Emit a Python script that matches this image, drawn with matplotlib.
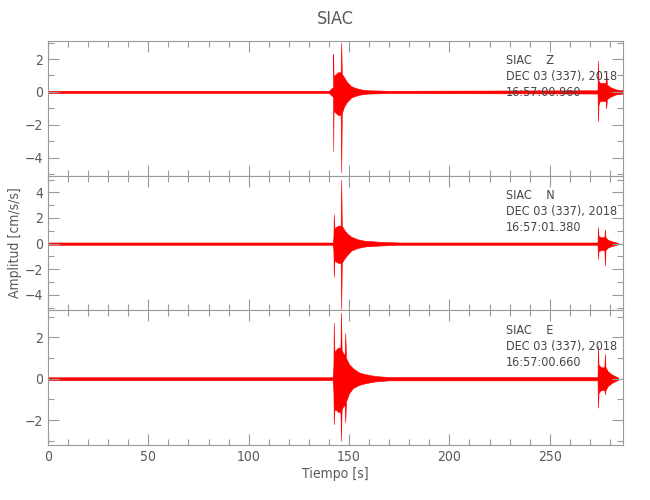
import matplotlib.pyplot as plt
from matplotlib.ticker import MultipleLocator

# Envelope knots (time in s, amplitude in cm/s/s)
z_time = [0, 140, 142.0, 142.1, 142.3, 142.6, 143.5, 144.5, 145.8, 146.1, 146.4, 147.5, 149, 151, 153, 156,
          160, 170, 273.8, 274.0, 274.3, 275, 277.8, 278.1, 278.5, 280, 283, 286.5]
z_upper = [0.07, 0.07, 0.3, 2.3, 0.8, 1.0, 1.1, 1.2, 1.2, 3.0, 1.1, 0.9, 0.6, 0.35, 0.25, 0.15,
           0.1, 0.07, 0.1, 1.9, 0.7, 0.55, 0.55, 1.2, 0.45, 0.3, 0.15, 0.1]
z_lower = [-0.07, -0.07, -0.3, -3.6, -1.0, -1.2, -1.3, -1.4, -1.4, -4.9, -1.3, -0.9, -0.6, -0.35, -0.25, -0.15,
           -0.1, -0.07, -0.1, -1.8, -0.8, -0.55, -0.55, -1.0, -0.45, -0.3, -0.15, -0.1]

n_time = [0, 141.8, 142.2, 142.4, 142.7, 143.5, 144.5, 145.8, 146.1, 146.4, 147.5, 149, 151, 154, 158, 165,
          175, 273.8, 274.0, 274.3, 275.5, 277.2, 277.5, 277.8, 279, 281, 284]
n_upper = [0.09, 0.09, 0.5, 2.3, 1.2, 1.3, 1.4, 1.4, 5.0, 1.4, 1.1, 0.8, 0.55, 0.35, 0.22, 0.15,
           0.09, 0.09, 1.3, 0.6, 0.5, 0.5, 1.1, 0.5, 0.3, 0.18, 0.06]
n_lower = [-0.09, -0.09, -0.5, -2.6, -1.3, -1.4, -1.5, -1.5, -5.1, -1.5, -1.2, -0.9, -0.55, -0.35, -0.22, -0.15,
           -0.09, -0.09, -1.2, -0.6, -0.5, -0.5, -1.7, -0.5, -0.3, -0.18, -0.06]

e_time = [0, 141.8, 142.2, 142.4, 142.7, 143.5, 144.5, 145.7, 146.0, 146.3, 147.2, 147.8, 148.1, 148.5, 150,
          152, 155, 158, 163, 170, 273.8, 274.0, 274.3, 275.5, 277.2, 277.5, 277.8, 279, 281, 284]
e_upper = [0.07, 0.07, 0.6, 2.7, 1.3, 1.4, 1.5, 1.5, 3.2, 1.4, 1.2, 1.2, 2.2, 1.0, 0.7,
           0.5, 0.3, 0.22, 0.13, 0.08, 0.08, 1.6, 0.7, 0.55, 0.55, 1.2, 0.55, 0.35, 0.2, 0.06]
e_lower = [-0.07, -0.07, -0.6, -2.2, -1.5, -1.5, -1.6, -1.6, -3.0, -1.5, -1.3, -1.3, -2.1, -1.1, -0.7,
           -0.45, -0.3, -0.22, -0.13, -0.08, -0.08, -1.4, -0.7, -0.55, -0.55, -0.75, -0.55, -0.35, -0.2, -0.06]

channels = ["Z", "N", "E"]
start_times = ["16:57:00.960", "16:57:01.380", "16:57:00.660"]
ylims = [(-5.1, 3.1), (-5.2, 5.3), (-3.2, 3.3)]

traces = [(z_time, z_upper, z_lower), (n_time, n_upper, n_lower), (e_time, e_upper, e_lower)]

frame = "#9a9a9a"
txt = "#5a5a5a"
plt.rcParams["font.family"] = ["DejaVu Sans"]
plt.rcParams["font.stretch"] = "condensed"

fig = plt.figure(figsize=(6.5, 5), dpi=100)
left, right = 48 / 650, 623 / 650
top, bottom = 1 - 41 / 500, 1 - 445 / 500
h = (top - bottom) / 3

axes = []
for i in range(3):
    ax = fig.add_axes([left, top - (i + 1) * h, right - left, h])
    t, up, lo = traces[i]
    ax.fill_between(t, lo, up, color="red", lw=0.4, edgecolor="red")
    ax.set_xlim(0, 286.5)
    ax.set_ylim(*ylims[i])
    ax.xaxis.set_major_locator(MultipleLocator(50))
    ax.xaxis.set_minor_locator(MultipleLocator(10))
    ax.yaxis.set_major_locator(MultipleLocator(2))
    ax.yaxis.set_minor_locator(MultipleLocator(1))
    ax.tick_params(which="both", direction="in", top=True, right=True, color=frame,
                   labelcolor=txt, labelsize=10, width=0.8)
    ax.tick_params(which="major", length=8)
    ax.tick_params(which="minor", length=4)
    for s in ax.spines.values():
        s.set_color(frame)
        s.set_linewidth(0.8)
    if i < 2:
        ax.tick_params(labelbottom=False)
    ax.text(0.797, 0.9, "SIAC    %s\nDEC 03 (337), 2018\n%s" % (channels[i], start_times[i]),
            transform=ax.transAxes, ha="left", va="top", fontsize=9, color="#444444",
            linespacing=1.3)
    axes.append(ax)

axes[2].set_xlabel("Tiempo [s]", color=txt, fontsize=10, labelpad=2)
axes[1].set_ylabel("Amplitud [cm/s/s]", color=txt, fontsize=10)
axes[1].yaxis.set_label_coords(-0.046, 0.5)
fig.text(0.516, 0.963, "SIAC", ha="center", va="center", fontsize=13, color=txt)

fig.savefig("out.png", dpi=100)
